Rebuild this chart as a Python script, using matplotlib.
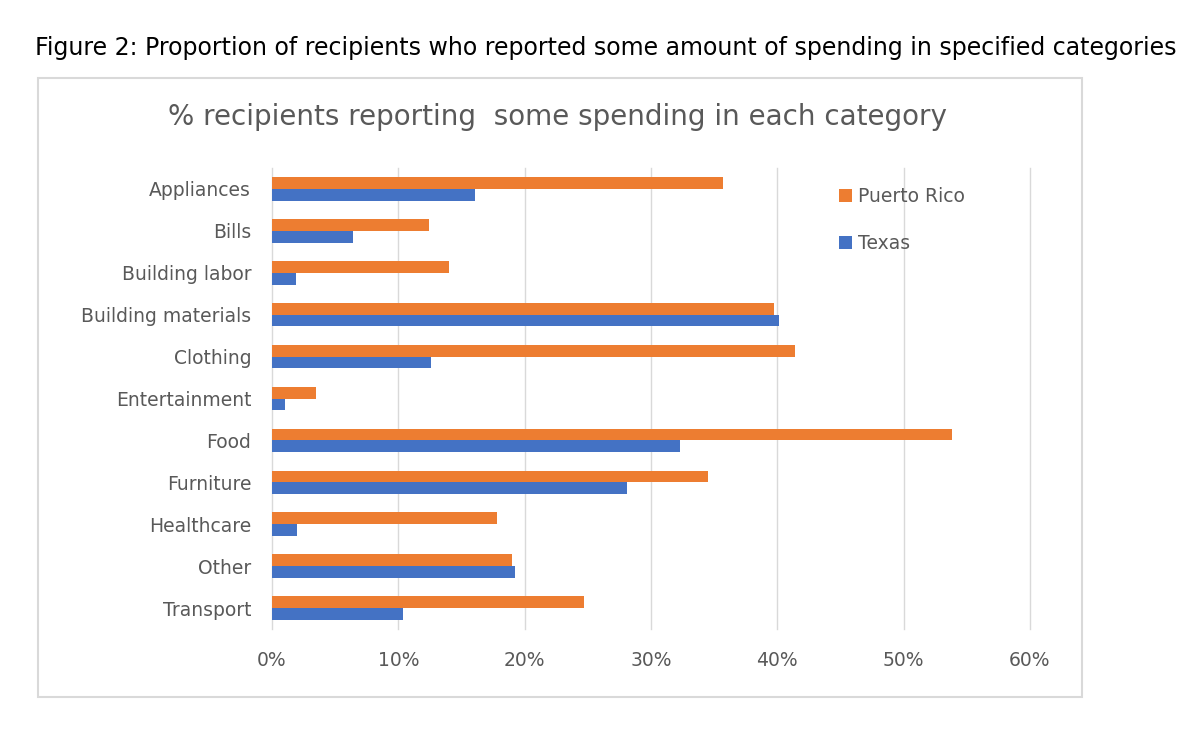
import matplotlib
matplotlib.use("Agg")
import matplotlib.pyplot as plt
from matplotlib.patches import Rectangle
from matplotlib.ticker import FuncFormatter

categories = ["Appliances", "Bills", "Building labor", "Building materials", "Clothing",
              "Entertainment", "Food", "Furniture", "Healthcare", "Other", "Transport"]
puerto_rico = [35.7, 12.4, 14.0, 39.7, 41.4, 3.5, 53.8, 34.5, 17.8, 19.0, 24.7]
texas = [16.1, 6.4, 1.9, 40.1, 12.6, 1.0, 32.3, 28.1, 2.0, 19.2, 10.4]
series_names = ["Puerto Rico", "Texas"]
xticks = [0, 10, 20, 30, 40, 50, 60]

W, H = 1200, 746
fig = plt.figure(figsize=(W / 100, H / 100), dpi=100)
fig.patch.set_facecolor("white")

def fx(px):
    return px / W

def fy(py):
    return 1 - py / H

# caption
fig.text(fx(35), fy(48), "Figure 2: Proportion of recipients who reported some amount of spending in specified categories",
         fontsize=17, family="DejaVu Sans", color="black", va="center", ha="left")

# chart border
fig.patches.append(Rectangle((fx(38), fy(697)), fx(1082 - 38), (697 - 78) / H,
                             transform=fig.transFigure, fill=False, edgecolor="#d9d9d9", lw=1.5))

fig.text(fx(557), fy(117), "% recipients reporting  some spending in each category",
         fontsize=20, family="DejaVu Sans", color="#595959", va="center", ha="center")

ax = fig.add_axes([fx(272), fy(629), fx(1030 - 272), (629 - 168) / H])
orange = "#ED7D31"
blue = "#4472C4"
ypos = list(range(len(categories)))
h = 0.28
ax.barh([y - h / 2 for y in ypos], puerto_rico, height=h, color=orange, label=series_names[0], zorder=3)
ax.barh([y + h / 2 for y in ypos], texas, height=h, color=blue, label=series_names[1], zorder=3)

ax.set_xlim(0, 60)
ax.set_ylim(len(categories) - 0.5, -0.5)
ax.set_xticks(xticks)
ax.xaxis.set_major_formatter(FuncFormatter(lambda v, p: f"{int(v)}%"))
ax.set_yticks(ypos)
ax.set_yticklabels(categories)
ax.grid(axis="x", color="#d9d9d9", lw=1, zorder=0)
for gl in ax.get_xgridlines():
    gl.set_clip_on(False)
for s in ax.spines.values():
    s.set_visible(False)
ax.tick_params(axis="both", length=0, colors="#595959", labelsize=13.5)
ax.tick_params(axis="x", pad=16)
ax.tick_params(axis="y", pad=15)

leg = ax.legend(loc="upper left", bbox_to_anchor=(fx(822), fy(170)), bbox_transform=fig.transFigure,
                frameon=False, handlelength=0.7, handleheight=0.7, handletextpad=0.3,
                labelspacing=1.5, fontsize=13.5, labelcolor="#595959")

fig.savefig("out.png", dpi=100, facecolor="white")
